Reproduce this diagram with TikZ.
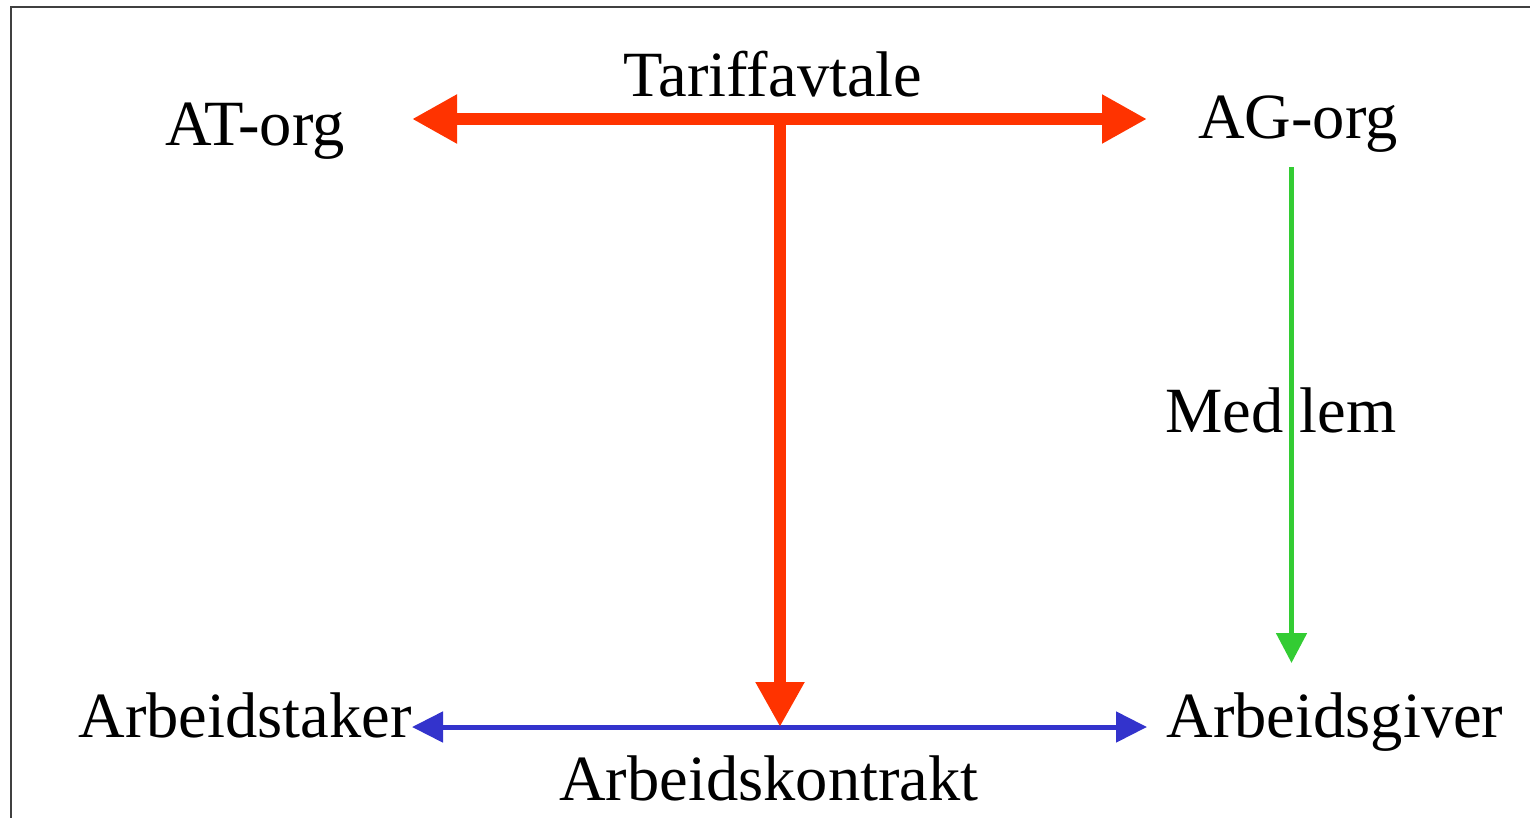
\documentclass[tikz,border=0pt]{standalone}
\usepackage{fontspec}
\setmainfont{Liberation Serif}
\usetikzlibrary{arrows.meta}
\definecolor{tred}{HTML}{FF3300}
\definecolor{tblue}{HTML}{3333CC}
\definecolor{tgreen}{HTML}{33CC33}
\begin{document}
\begin{tikzpicture}[x=1pt,y=-1pt,
  lbl/.style={font=\fontsize{64.5}{70}\selectfont, inner sep=0pt, anchor=base},
  thick red/.style={draw=tred, line width=12pt, -{Triangle[length=45pt,width=46pt]}},
  thick red both/.style={draw=tred, line width=12pt, {Triangle[length=45pt,width=46pt]}-{Triangle[length=45pt,width=46pt]}},
  blue both/.style={draw=tblue, line width=5pt, {Triangle[length=31pt,width=30pt]}-{Triangle[length=31pt,width=30pt]}},
  green arrow/.style={draw=tgreen, line width=5pt, -{Triangle[length=30pt,width=30pt]}}]
\useasboundingbox (0,0) rectangle (1530,817);
\begin{scope}
  \clip (0,0) rectangle (1530,817);
  \draw[line width=1.5pt, black!75] (11,7) rectangle (1600,900);
\end{scope}
% labels
\node[lbl] (atorg) at (255,145) {AT-org};
\node[lbl] (agorg) at (1298,138) {AG-org};
\node[lbl] (tariff) at (773,96) {Tariffavtale};
\node[lbl] (medlem) at (1281,432) {Med lem};
\node[lbl] (arbtaker) at (245,737) {Arbeidstaker};
\node[lbl] (arbgiver) at (1335,737) {Arbeidsgiver};
\node[lbl] (kontrakt) at (769,800) {Arbeidskontrakt};
% connector ends
\coordinate (redL) at (412,119);
\coordinate (redR) at (1147,119);
\coordinate (redTop) at (780,119);
\coordinate (blueL) at (412,727);
\coordinate (blueR) at (1147,727);
\coordinate (blueMid) at (780,727);
\coordinate (greenTop) at (1291.5,167);
\coordinate (greenBot) at (1291.5,663);
% connectors
\draw[green arrow] (greenTop) -- (greenBot);
\draw[blue both] (blueL) -- (blueR);
\draw[thick red both] (redL) -- (redR);
\draw[thick red] (redTop) -- (blueMid);
\end{tikzpicture}
\end{document}
